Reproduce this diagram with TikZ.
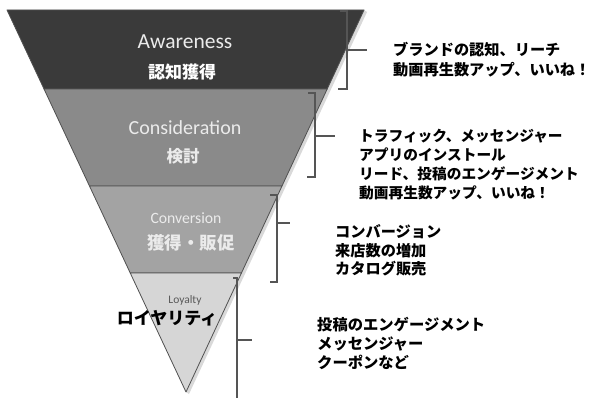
\documentclass[tikz,border=0pt]{standalone}
\usepackage{fontspec}
\setmainfont{Carlito}
\newfontfamily\jp{Noto Sans CJK JP}
\usetikzlibrary{calc}
\definecolor{cAware}{HTML}{3A3A3A}
\definecolor{cConsid}{HTML}{8A8A8A}
\definecolor{cConv}{HTML}{A3A3A3}
\definecolor{cLoyal}{HTML}{D6D6D6}
\definecolor{cEdge}{HTML}{505050}
\definecolor{cBrack}{HTML}{555555}
\tikzset{
  band/.style={draw=cEdge, line width=0.8pt, line join=round},
  entxt/.style={inner sep=0pt, text=white!92!black},
  jplbl/.style={inner sep=0pt},
  note/.style={inner sep=0pt, anchor=north west, align=left},
  brack/.style={draw=cBrack, line width=1.4pt},
}
\begin{document}
\begin{tikzpicture}[x=1pt,y=-1pt]
\useasboundingbox[fill=white] (0,0) rectangle (593,398);
% funnel corners
\coordinate (tl) at (7,10);
\coordinate (tr) at (364,10);
\coordinate (ap) at (186,392);
\coordinate (l1) at ($(tl)!0.207!(ap)$);
\coordinate (r1) at ($(tr)!0.207!(ap)$);
\coordinate (l2) at ($(tl)!0.4607!(ap)$);
\coordinate (r2) at ($(tr)!0.4607!(ap)$);
\coordinate (l3) at ($(tl)!0.6885!(ap)$);
\coordinate (r3) at ($(tr)!0.6885!(ap)$);
% shadow
\fill[black!15] ($(tr)+(3,2)$) -- ($(ap)+(3,2)$) -- (ap) -- (tr) -- cycle;
% bands
\filldraw[band, fill=cAware] (tl) -- (tr) -- (r1) -- (l1) -- cycle;
\filldraw[band, fill=cConsid] (l1) -- (r1) -- (r2) -- (l2) -- cycle;
\filldraw[band, fill=cConv] (l2) -- (r2) -- (r3) -- (l3) -- cycle;
\filldraw[band, fill=cLoyal] (l3) -- (r3) -- (ap) -- cycle;
% funnel labels
\node[entxt, font=\fontsize{21.5}{24}\selectfont] (aw) at (185,42) {Awareness};
\node[jplbl, text=white, font=\jp\bfseries\fontsize{17}{20}\selectfont] (awj) at (182,72) {認知獲得};
\node[entxt, font=\fontsize{20}{24}\selectfont] (co) at (185,128) {Consideration};
\node[jplbl, text=white!92!black, font=\jp\bfseries\fontsize{16.5}{20}\selectfont] (coj) at (183,156) {検討};
\node[entxt, font=\fontsize{15.7}{19}\selectfont] (cv) at (186,218) {Conversion};
\node[jplbl, text=white!92!black, font=\jp\bfseries\fontsize{17.5}{20}\selectfont] (cvj) at (191,243) {獲得・販促};
\node[inner sep=0pt, text=black!65, font=\fontsize{11.5}{14}\selectfont] (lo) at (185,300) {Loyalty};
\node[jplbl, text=black, font=\jp\bfseries\fontsize{17}{20}\selectfont] (loj) at (167,318) {ロイヤリティ};
% brackets
\draw[brack] (340,11) -- (347,11) -- (347,89) -- (338,89);
\draw[brack] (347,50) -- (367,50);
\draw[brack] (308,93) -- (315,93) -- (315,177) -- (307,177);
\draw[brack] (315,136) -- (335,136);
\draw[brack] (270,195) -- (277,195) -- (277,282) -- (270,282);
\draw[brack] (277,223) -- (290,223);
\draw[brack] (233,278) -- (237,278) -- (237,398);
\draw[brack] (237,340) -- (252,340);
% notes
\node[note, font=\jp\bfseries\fontsize{15.2}{20}\selectfont] (n1) at (393,42.5)
  {ブランドの認知、リーチ\\動画再生数アップ、いいね！};
\node[note, font=\jp\bfseries\fontsize{14.7}{19}\selectfont] (n2) at (359,128.5)
  {トラフィック、メッセンジャー\\アプリのインストール\\リード、投稿のエンゲージメント\\動画再生数アップ、いいね！};
\node[note, font=\jp\bfseries\fontsize{15.2}{18.5}\selectfont] (n3) at (335,224.5)
  {コンバージョン\\来店数の増加\\カタログ販売};
\node[note, font=\jp\bfseries\fontsize{15.3}{19}\selectfont] (n4) at (317,317.5)
  {投稿のエンゲージメント\\メッセンジャー\\クーポンなど};
\end{tikzpicture}
\end{document}
